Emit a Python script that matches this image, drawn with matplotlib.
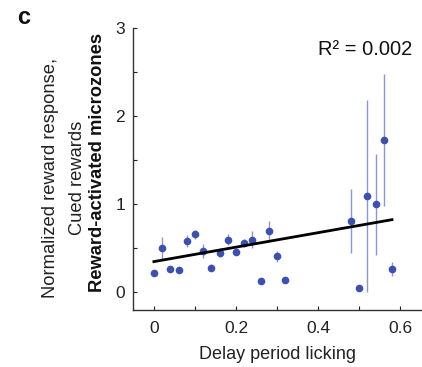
import matplotlib
matplotlib.use("Agg")
import matplotlib.pyplot as plt
import numpy as np
from matplotlib.ticker import MultipleLocator

plt.rcParams['font.family'] = ['Liberation Sans', 'DejaVu Sans']

delay_licking = [0.00, 0.02, 0.04, 0.06, 0.08, 0.10, 0.12, 0.14, 0.16, 0.18, 0.20, 0.22,
                 0.24, 0.26, 0.28, 0.30, 0.32, 0.48, 0.50, 0.52, 0.54, 0.56, 0.58]
reward_response = [0.22, 0.50, 0.27, 0.25, 0.58, 0.66, 0.47, 0.28, 0.45, 0.60, 0.46, 0.56,
                   0.60, 0.125, 0.70, 0.41, 0.14, 0.81, 0.05, 1.09, 1.00, 1.73, 0.265]
response_err = [0.03, 0.13, 0.03, 0.03, 0.07, 0.05, 0.08, 0.04, 0.05, 0.06, 0.04, 0.05,
                0.10, 0.03, 0.11, 0.06, 0.03, 0.36, 0.03, 1.09, 0.57, 0.75, 0.08]
fit_intercept = 0.35
fit_slope = 0.82
fit_x_range = [0.0, 0.58]
r2_text = "R² = 0.002"

fig = plt.figure(figsize=(4.22, 3.67), dpi=100)
ax = fig.add_axes([0.316, 0.155, 0.681, 0.769])

ax.errorbar(delay_licking, reward_response, yerr=response_err, fmt='none',
            ecolor='#8c96d6', elinewidth=1.0, capsize=0, zorder=2)
ax.plot(delay_licking, reward_response, 'o', color='#3d4fb0', markersize=5.5,
        markeredgewidth=0, zorder=3)
fx = np.array(fit_x_range)
ax.plot(fx, fit_intercept + fit_slope * fx, color='black', lw=2.0, zorder=4)

ax.set_xlim(-0.05, 0.65)
ax.set_ylim(-0.2, 3.0)
ax.set_xticks([0, 0.2, 0.4, 0.6])
ax.set_xticklabels(['0', '0.2', '0.4', '0.6'])
ax.set_yticks([0, 1, 2, 3])
ax.xaxis.set_minor_locator(MultipleLocator(0.1))
ax.yaxis.set_minor_locator(MultipleLocator(0.5))
ax.tick_params(which='both', direction='in', length=3, width=0.8, labelsize=12.5,
               colors='#222222', pad=8)
ax.tick_params(axis='y', pad=6)
for s in ['top', 'right']:
    ax.spines[s].set_visible(False)
for s in ['left', 'bottom']:
    ax.spines[s].set_linewidth(1.0)
    ax.spines[s].set_color('#333333')

ax.set_xlabel('Delay period licking', fontsize=13, color='#222222', labelpad=7)
ax.text(0.97, 0.925, r2_text, transform=ax.transAxes, ha='right', va='center',
        fontsize=14.5, color='#111111')

fig.text(51 / 422, 1 - 178 / 367, 'Normalized reward response,', rotation=90,
         ha='center', va='center', fontsize=13.2, color='#222222')
fig.text(77 / 422, 1 - 178 / 367, 'Cued rewards', rotation=90,
         ha='center', va='center', fontsize=13.2, color='#222222')
fig.text(97 / 422, 1 - 162 / 367, 'Reward-activated microzones', rotation=90,
         ha='center', va='center', fontsize=13.2, fontweight='bold', color='#111111')
fig.text(17 / 422, 1 - 17 / 367, 'c', fontsize=17, fontweight='bold',
         ha='left', va='center', color='#111111')

fig.savefig('out.png', dpi=100)
